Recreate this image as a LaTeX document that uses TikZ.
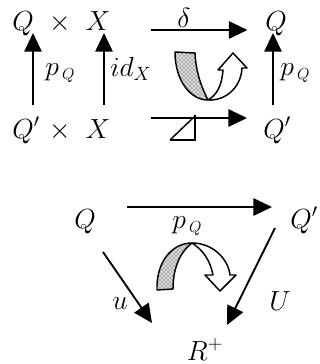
\documentclass[tikz,border=0pt]{standalone}
\usetikzlibrary{arrows.meta,patterns}
\begin{document}
\begin{tikzpicture}[x=0.75pt,y=-0.75pt,
  lab/.style={inner sep=0pt, anchor=base, font=\huge},
  arr/.style={line width=1.4pt, -{Triangle[length=14pt,width=13pt]}},
  cell/.style={line width=1.1pt, line join=round}]
\useasboundingbox (0,0) rectangle (320,364);
% top square
\node[lab] (Q1) at (23,30) {$Q$};
\node[lab] (T1) at (60,30) {$\times$};
\node[lab] (X1) at (98,30) {$X$};
\node[lab] (Q1r) at (276,30) {$Q$};
\node[lab] (Q2) at (26,138) {$Q'$};
\node[lab] (T2) at (60,138) {$\times$};
\node[lab] (X2) at (98,138) {$X$};
\node[lab] (Q2r) at (277,138) {$Q'$};
\draw[arr] ([shift={(40.6,0)}]X1.base east) -- node[lab, pos=0.34, above=1pt] (delta) {$\delta$} ([shift={(-17.5,0)}]Q1r.base west);
\draw[arr] ([shift={(40.6,-20)}]X2.base east) -- ([shift={(-16,-20)}]Q2r.base west);
\draw[arr] ([shift={(7,-33)}]Q2.base) -- ([shift={(10,3)}]Q1.base);
\draw[arr] ([shift={(6,-33)}]X2.base) -- ([shift={(6,3)}]X1.base);
\draw[arr] ([shift={(-4,-33)}]Q2r.base) -- ([shift={(-3,3)}]Q1r.base);
\node[lab, anchor=base west] (pq1) at (45,75) {$p_{\,\scriptscriptstyle Q}$};
\node[lab, anchor=base west] (idx) at (110,76) {$id_X$};
\node[lab, anchor=base west] (pq2) at (280,75) {$p_{\,\scriptscriptstyle Q}$};
% triangle mark
\draw[line width=1.1pt] (170,140) -- (195,140) -- (195,115);
\draw[line width=1.1pt] (170,140) -- (194,117);
% top 2-cell
\filldraw[cell, preaction={fill=gray!25}, pattern=crosshatch dots] (175,52) .. controls (175,80) and (190,100) .. (208,100) .. controls (203,90) and (196,75) .. (195,53) -- cycle;
\filldraw[cell, fill=white] (208,100) .. controls (225,101) and (241,88) .. (242,68) -- (247,68) -- (233,53) -- (218,70) -- (223,70) .. controls (222,85) and (217,95) .. (208,100) -- cycle;
% bottom triangle
\node[lab] (Q3) at (85,228) {$Q$};
\node[lab] (Q3r) at (304,228) {$Q'$};
\node[lab] (R) at (205,360) {$R^{+}$};
\draw[arr] ([shift={(31.5,-21)}]Q3.base east) -- ([shift={(-18,-21)}]Q3r.base west);
\node[lab, anchor=base west] (pq3) at (172,228) {$p_{\,\scriptscriptstyle Q}$};
\draw[arr] ([shift={(18,24)}]Q3.base) -- ([shift={(-53,-37)}]R.base);
\draw[arr] ([shift={(-29,0)}]Q3r.base) -- ([shift={(22,-35)}]R.base);
\node[lab] (u) at (120,309) {$u$};
\node[lab] (U) at (280,310) {$U$};
% bottom 2-cell
\filldraw[cell, preaction={fill=gray!25}, pattern=crosshatch dots] (157,290) .. controls (156,262) and (172,243) .. (192,243) .. controls (180,252) and (173,268) .. (173,289) -- cycle;
\filldraw[cell, fill=white] (192,243) .. controls (212,243) and (228,258) .. (230,275) -- (236,275) -- (220,291) -- (205,275) -- (213,275) .. controls (210,260) and (203,250) .. (192,243) -- cycle;
\end{tikzpicture}
\end{document}
